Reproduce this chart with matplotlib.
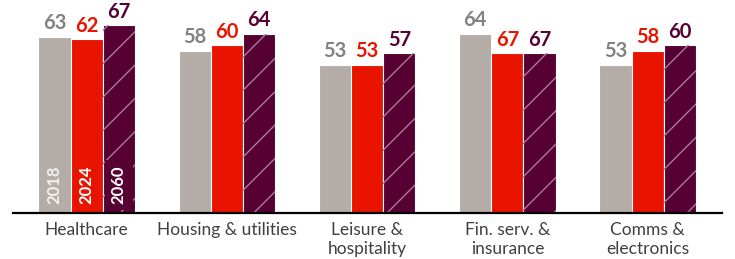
import matplotlib.pyplot as plt
import numpy as np

# dados
categorias = ["Healthcare", "Housing & utilities", "Leisure &\nhospitality",
              "Fin. serv. &\ninsurance", "Comms &\nelectronics"]
anos = ["2018", "2024", "2060"]
v2018 = [63, 58, 53, 64, 53]
v2024 = [62, 60, 53, 57, 58]
v2060 = [67, 64, 57, 57, 60]
# rótulos impressos no original (Fin. serv. mostra 67 sobre barras de 57)
r2018 = ["63", "58", "53", "64", "53"]
r2024 = ["62", "60", "53", "67", "58"]
r2060 = ["67", "64", "57", "67", "60"]

cinza = "#B4ACA6"
vermelho = "#E81400"
roxo = "#570033"
cor_hachura = "#A87A9C"
cores_rotulo = ["#828282", vermelho, roxo]

plt.rcParams['font.family'] = ['Lato', 'DejaVu Sans']

fig = plt.figure(figsize=(7.35, 2.59), dpi=100)
ax = fig.add_axes([13 / 735, 46 / 259, 709 / 735, 213 / 259])

x = np.arange(len(categorias))
largura = 0.229
series = [v2018, v2024, v2060]
rotulos = [r2018, r2024, r2060]
cores = [cinza, vermelho, roxo]

for i, (vals, cor) in enumerate(zip(series, cores)):
    pos = x + (i - 1) * largura
    ax.bar(pos, vals, largura, color=cor, edgecolor="white", linewidth=0.8)
    if i == 2:
        ax.bar(pos, vals, largura, fill=False, hatch="/", edgecolor=cor_hachura,
               linewidth=0)
    for xp, v, r in zip(pos, vals, rotulos[i]):
        ax.annotate(r, (xp, v), xytext=(0, 5.3), textcoords="offset points",
                    ha="center", va="baseline", fontsize=14.5, fontweight="bold",
                    color=cores_rotulo[i])

# anos dentro das barras do primeiro grupo
for i, ano in enumerate(anos):
    caixa = None
    if i == 2:
        caixa = dict(boxstyle="square,pad=0.35", fc=roxo, ec="none")
    ax.annotate(ano, (x[0] + (i - 1) * largura, 0), xytext=(0, 6.5),
                textcoords="offset points", ha="center", va="bottom",
                rotation=90, fontsize=12, fontweight="bold",
                color="#F4F2F0" if i == 0 else "white", bbox=caixa)

ax.set_xlim(-0.525, 4.53)
ax.set_ylim(0, 76.07)
ax.set_xticks(x)
ax.set_xticklabels(categorias, fontsize=12.5, color="#404040", linespacing=1.2)
ax.tick_params(axis="x", length=0, pad=6.5)
ax.set_yticks([])
for s in ["top", "right", "left"]:
    ax.spines[s].set_visible(False)
ax.spines["bottom"].set_linewidth(1.6)
ax.spines["bottom"].set_color("black")

fig.savefig("out.png", dpi=100)
